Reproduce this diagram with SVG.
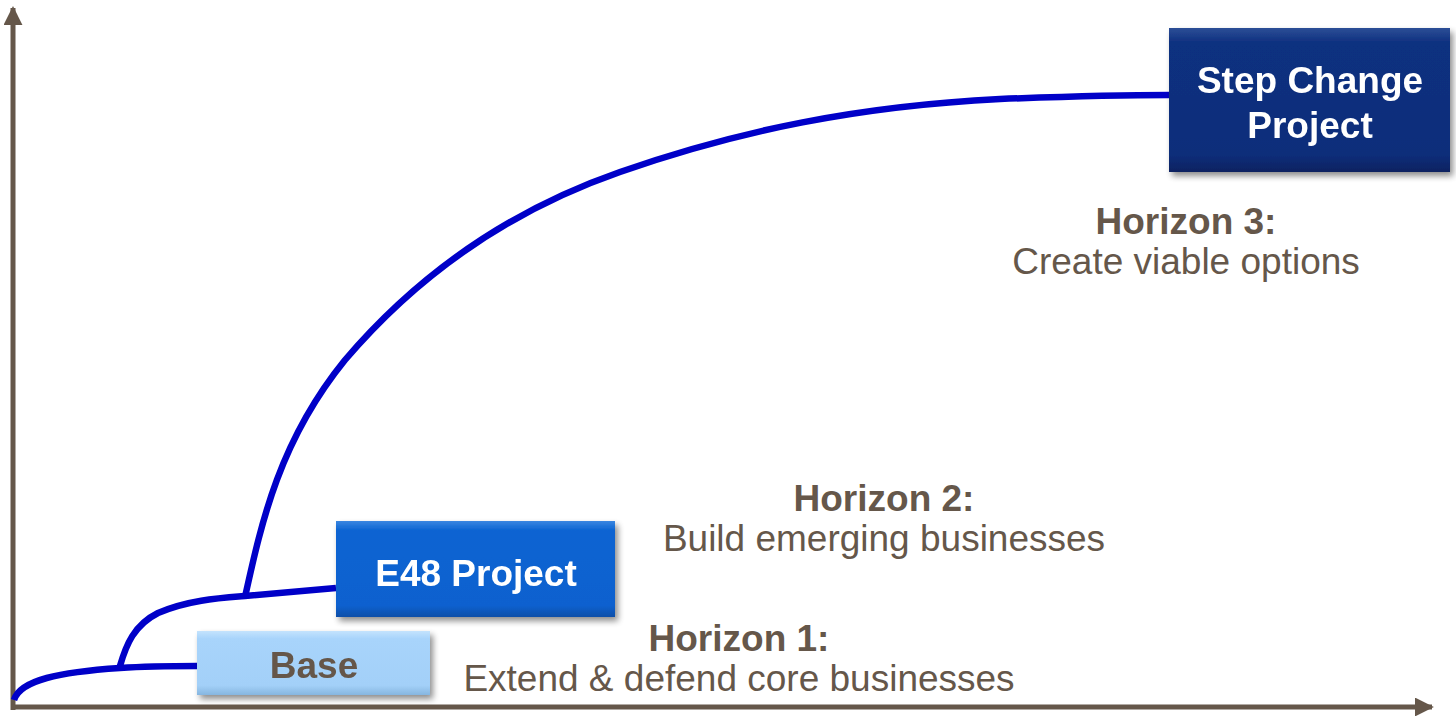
<svg xmlns="http://www.w3.org/2000/svg" width="1456" height="716" viewBox="0 0 1456 716">
  <defs>
    <style>
      .axis { stroke: #65574a; stroke-width: 5; fill: none; }
      .curve { stroke: #0000c8; stroke-width: 6.5; fill: none; stroke-linecap: butt; }
      .lbl { font-family: "Liberation Sans", Arial, sans-serif; fill: #65574a; font-size: 37px; text-anchor: middle; }
      .lbl-b { font-weight: bold; }
      .box-text { font-family: "Liberation Sans", Arial, sans-serif; font-weight: bold; font-size: 37px; text-anchor: middle; }
    </style>
    <marker id="axis-head" viewBox="0 0 10 10" refX="9" refY="5" markerWidth="3.8" markerHeight="3.8" markerUnits="strokeWidth" orient="auto">
      <path d="M0,0 L10,5 L0,10 z" fill="#65574a"/>
    </marker>
    <filter id="shadow" x="-10%" y="-10%" width="125%" height="130%">
      <feGaussianBlur in="SourceAlpha" stdDeviation="3"/>
      <feOffset dx="3" dy="4" result="b"/>
      <feComponentTransfer><feFuncA type="linear" slope="0.45"/></feComponentTransfer>
      <feMerge><feMergeNode/><feMergeNode in="SourceGraphic"/></feMerge>
    </filter>
    <linearGradient id="g-base" x1="0" y1="0" x2="0" y2="1">
      <stop offset="0" stop-color="#c4e3fd"/>
      <stop offset="0.12" stop-color="#a8d4fb"/>
      <stop offset="0.85" stop-color="#a3d0f8"/>
      <stop offset="1" stop-color="#86b6e0"/>
    </linearGradient>
    <linearGradient id="g-e48" x1="0" y1="0" x2="0" y2="1">
      <stop offset="0" stop-color="#3a86e0"/>
      <stop offset="0.1" stop-color="#0b64d2"/>
      <stop offset="0.88" stop-color="#0a61cf"/>
      <stop offset="1" stop-color="#0a4ea8"/>
    </linearGradient>
    <linearGradient id="g-step" x1="0" y1="0" x2="0" y2="1">
      <stop offset="0" stop-color="#2d4f96"/>
      <stop offset="0.1" stop-color="#0f3080"/>
      <stop offset="0.88" stop-color="#0e2e7a"/>
      <stop offset="1" stop-color="#0a2260"/>
    </linearGradient>
  </defs>

  <rect width="1456" height="716" fill="#ffffff"/>

  <!-- axes -->
  <g id="axes">
    <line class="axis" x1="13" y1="710" x2="13" y2="8" marker-end="url(#axis-head)"/>
    <line class="axis" x1="11" y1="707" x2="1432" y2="707" marker-end="url(#axis-head)"/>
  </g>

  <!-- growth curves -->
  <g id="connectors">
    <path class="curve" d="M14,700 C20,680 60,672 120,668 C150,666 175,666 197,666"/>
    <path class="curve" d="M120,666 C126,645 134,625 158,613 C188,600 220,598 245,596 C280,593 310,590 336,588"/>
    <path class="curve" d="M245,597 C262,520 280,440 345,360 C415,278 505,212 620,172 C740,130 860,106 1000,99 C1080,96 1130,95 1169,95"/>
  </g>

  <g id="node-base" filter="url(#shadow)">
    <rect x="197" y="631" width="233" height="64" fill="url(#g-base)"/>
    <text class="box-text" x="314" y="678" fill="#65574a">Base</text>
  </g>

  <g id="node-e48" filter="url(#shadow)">
    <rect x="336" y="521" width="279" height="96" fill="url(#g-e48)"/>
    <text class="box-text" x="476" y="586" fill="#ffffff">E48 Project</text>
  </g>

  <g id="node-step" filter="url(#shadow)">
    <rect x="1169" y="28" width="281" height="144" fill="url(#g-step)"/>
    <text class="box-text" x="1310" y="93" fill="#ffffff">Step Change</text>
    <text class="box-text" x="1310" y="138" fill="#ffffff">Project</text>
  </g>

  <g id="label-h1">
    <text class="lbl lbl-b" x="739" y="651">Horizon 1:</text>
    <text class="lbl" x="739" y="691">Extend &amp; defend core businesses</text>
  </g>

  <g id="label-h2">
    <text class="lbl lbl-b" x="884" y="511">Horizon 2:</text>
    <text class="lbl" x="884" y="551">Build emerging businesses</text>
  </g>

  <g id="label-h3">
    <text class="lbl lbl-b" x="1186" y="234">Horizon 3:</text>
    <text class="lbl" x="1186" y="274">Create viable options</text>
  </g>
</svg>
